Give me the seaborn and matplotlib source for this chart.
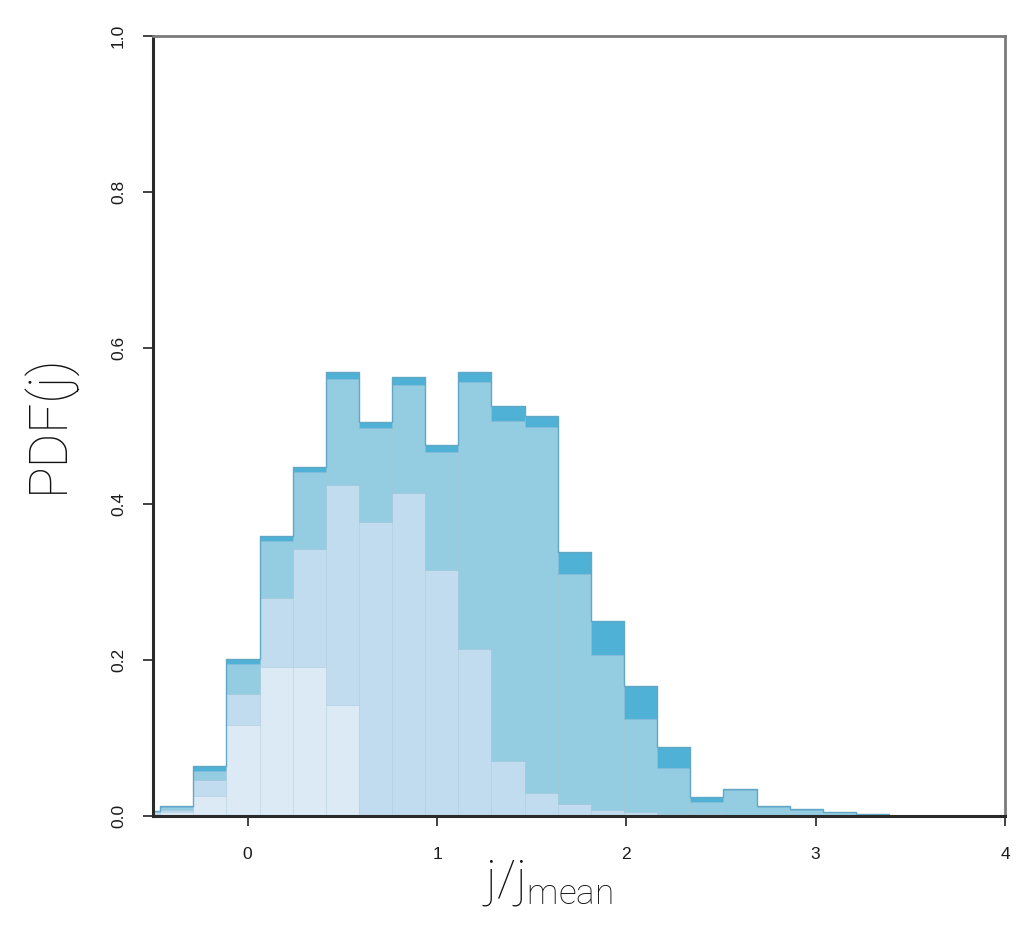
import numpy as np
import pandas as pd
import matplotlib
matplotlib.use("Agg")
import matplotlib.pyplot as plt
import seaborn as sns

# ---- data ----
bin_edges = [-0.6375, -0.4625, -0.2875, -0.1125, 0.0625, 0.2375, 0.4125, 0.5875,
             0.7625, 0.9375, 1.1125, 1.2875, 1.4625, 1.6375, 1.8125, 1.9875,
             2.1625, 2.3375, 2.5125, 2.6875, 2.8625, 3.0375, 3.2125, 3.3875]

layer1 = [0.003, 0.005, 0.026, 0.117, 0.191, 0.191, 0.142, 0, 0, 0, 0, 0,
          0, 0, 0, 0, 0, 0, 0, 0, 0, 0, 0]
layer2 = [0.002, 0.003, 0.020, 0.039, 0.088, 0.151, 0.282, 0.377, 0.414, 0.315,
          0.214, 0.071, 0.029, 0.015, 0.008, 0.005, 0.003, 0.002, 0.001, 0.0005,
          0, 0, 0]
layer3 = [0.001, 0.003, 0.012, 0.039, 0.073, 0.099, 0.136, 0.120, 0.139, 0.152,
          0.342, 0.435, 0.470, 0.295, 0.198, 0.120, 0.059, 0.016, 0.032, 0.0115,
          0.008, 0.0045, 0.002]
layer4 = [0.001, 0.002, 0.006, 0.006, 0.007, 0.006, 0.009, 0.008, 0.010, 0.009,
          0.013, 0.020, 0.014, 0.028, 0.044, 0.042, 0.026, 0.006, 0.002, 0.001,
          0.0007, 0.0003, 0.0001]

layer_names = ["L1", "L2", "L3", "L4"]
colors = {"L1": "#dbeaf5", "L2": "#c1dcee", "L3": "#94cce1", "L4": "#50b1d6"}

x_ticks = [0, 1, 2, 3, 4]
y_ticks = [0.0, 0.2, 0.4, 0.6, 0.8, 1.0]
y_ticklabels = ["0.0", "0.2", "0.4", "0.6", "0.8", "1.0"]

# ---- build long table ----
edges = np.array(bin_edges)
centers = (edges[:-1] + edges[1:]) / 2
rows = []
for name, vals in zip(layer_names, [layer1, layer2, layer3, layer4]):
    for c, v in zip(centers, vals):
        rows.append({"x": float(c), "w": float(v), "layer": name})
df = pd.DataFrame(rows)
total = pd.DataFrame({"x": centers,
                      "w": np.sum([layer1, layer2, layer3, layer4], axis=0)})

sns.set_theme(style="white")
plt.rcParams["font.family"] = ["Liberation Sans Narrow", "Liberation Sans", "DejaVu Sans"]

fig = plt.figure(figsize=(10.28, 9.26), dpi=100)
ax = fig.add_axes([153 / 1028, 1 - 816 / 926, (1005 - 153) / 1028, (816 - 36) / 926])

sns.histplot(data=df, x="x", weights="w", hue="layer",
             hue_order=["L4", "L3", "L2", "L1"], palette=colors,
             bins=list(bin_edges), multiple="stack", stat="count", element="bars",
             fill=True, alpha=1.0, linewidth=0.4, edgecolor=(0.45, 0.62, 0.72, 0.3),
             legend=False, ax=ax)
sns.histplot(data=total, x="x", weights="w", bins=list(bin_edges), stat="count",
             element="step", fill=False, color="#62a8c6", linewidth=1.0, ax=ax)

ax.set_xlim(-0.5, 4)
ax.set_ylim(0, 1)
ax.set_xticks(x_ticks)
ax.set_xticklabels([str(t) for t in x_ticks], fontsize=12.5)
ax.set_yticks(y_ticks)
ax.set_yticklabels(y_ticklabels, fontsize=12.5, rotation=90, va="center")
ax.tick_params(axis="both", direction="out", length=7.5, width=1.2, color="#222222",
               labelcolor="#1a1a1a", bottom=True, left=True)
ax.tick_params(axis="x", pad=15)
ax.tick_params(axis="y", pad=12)

for side in ["left", "bottom"]:
    ax.spines[side].set_color("#2a2a2a")
    ax.spines[side].set_linewidth(2.2)
for side in ["top", "right"]:
    ax.spines[side].set_color("#7a7a7a")
    ax.spines[side].set_linewidth(2.0)

lab_font = dict(family=["Roboto", "DejaVu Sans"], fontweight="light", color="#111111")
ax.set_xlabel(r"j/j$_{\mathregular{mean}}$", fontsize=36, **lab_font)
ax.xaxis.set_label_coords(0.463, -0.054, transform=ax.transAxes)
ax.xaxis.label.set_va("top")
ax.set_ylabel("PDF(j)", fontsize=38, **lab_font)
ax.yaxis.set_label_coords(-0.09, 0.504, transform=ax.transAxes)

fig.savefig("out.png", dpi=100, facecolor="white")
